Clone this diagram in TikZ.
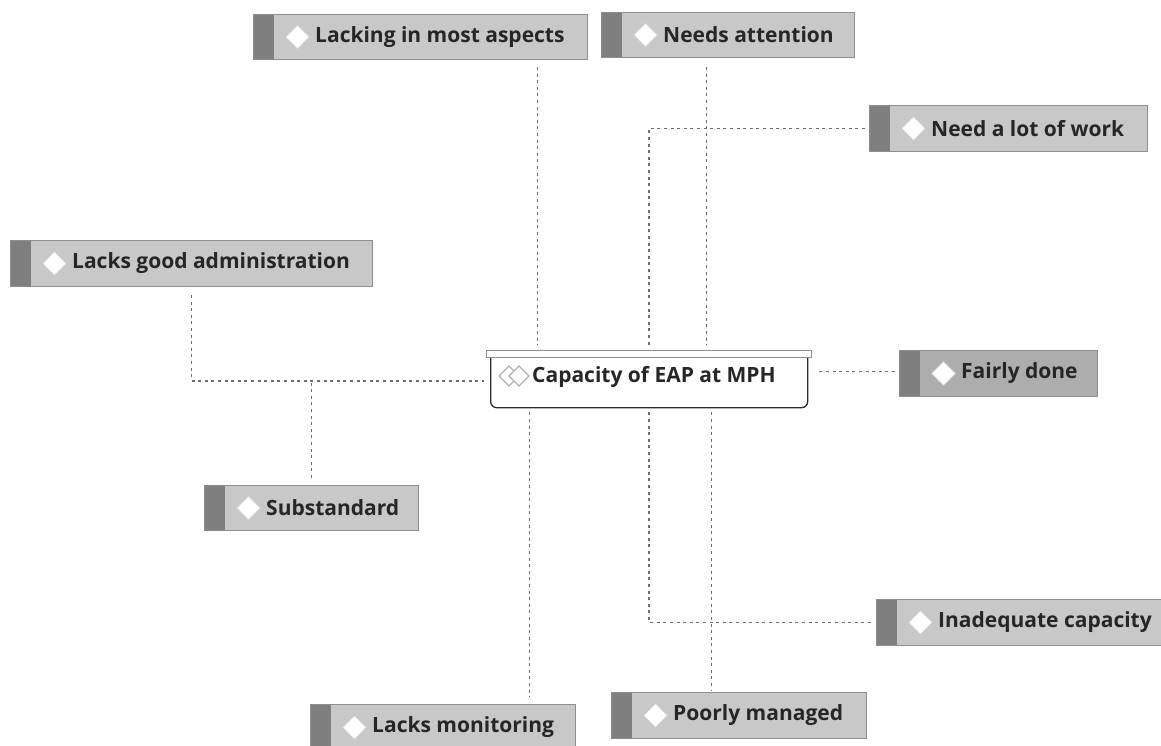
\documentclass[tikz,border=0pt]{standalone}
\usepackage{fontspec}
\newfontfamily\tagfont{Open Sans}
\definecolor{boxfill}{HTML}{C8C8C8}
\definecolor{fairfill}{HTML}{ADADAD}
\definecolor{boxedge}{HTML}{8E8E8E}
\definecolor{stripc}{HTML}{7F7F7F}
\definecolor{diaedge}{HTML}{D0D0D0}
\definecolor{capedge}{HTML}{2B2B2B}
\definecolor{linec}{HTML}{6E6E6E}
\begin{document}
\begin{tikzpicture}[x=1pt,y=-1pt,
  tagbox/.style={draw=boxedge, fill=boxfill, line width=1pt, minimum height=45pt, inner sep=0pt, anchor=north west,
    path picture={
      \fill[stripc] (path picture bounding box.north west) rectangle ([xshift=20pt]path picture bounding box.south west);
      \draw[draw=diaedge, fill=white, line width=1pt] ([xshift=32pt]path picture bounding box.west) -- ++(12,-12) -- ++(12,12) -- ++(-12,12) -- cycle;
    }},
  tagtext/.style={anchor=west, inner sep=0pt, font=\tagfont\bfseries\fontsize{21}{21}\selectfont, text=black!85},
  conn/.style={draw=linec, line width=1.8pt, dash pattern=on 3pt off 3.6pt}
]
\useasboundingbox (0,0) rectangle (1161,745);
\clip (0,0) rectangle (1161,745);
\fill[white] (0,0) rectangle (1161,745);

% central node
\node[draw=capedge, line width=1.3pt, fill=white, rounded corners=6pt, minimum width=317pt, minimum height=56pt, anchor=north west, inner sep=0pt] (cap) at (490,351) {};
\node[draw=boxedge, fill=white, line width=1.2pt, minimum width=325pt, minimum height=7pt, anchor=north west, inner sep=0pt] (capbar) at (486,350) {};
\draw[draw=diaedge!85!black, line width=1.2pt] (499,376) -- ++(10,-10) -- ++(10,10) -- ++(-10,10) -- cycle;
\draw[draw=diaedge!85!black, fill=white, line width=1.2pt] (509,376) -- ++(10,-10) -- ++(10,10) -- ++(-10,10) -- cycle;
\node[tagtext] (capt) at (532,377) {Capacity of EAP at MPH};

% tags
\node[tagbox, minimum width=334pt] (lack) at (253,14) {};
\node[tagtext] (lackt) at ([xshift=62pt]lack.west) {Lacking in most aspects};

\node[tagbox, minimum width=253pt] (need) at (601,12) {};
\node[tagtext] (needt) at ([xshift=62pt]need.west) {Needs attention};

\node[tagbox, minimum width=278pt, minimum height=46pt] (work) at (869,105) {};
\node[tagtext] (workt) at ([xshift=62pt]work.west) {Need a lot of work};

\node[tagbox, minimum width=362pt, minimum height=46pt] (admin) at (10,240) {};
\node[tagtext] (admint) at ([xshift=62pt]admin.west) {Lacks good administration};

\node[tagbox, fill=fairfill, minimum width=198pt, minimum height=46pt] (fair) at (899,350) {};
\node[tagtext] (fairt) at ([xshift=62pt]fair.west) {Fairly done};

\node[tagbox, minimum width=214pt] (sub) at (204,485) {};
\node[tagtext] (subt) at ([xshift=62pt]sub.west) {Substandard};

\node[tagbox, minimum width=290pt, minimum height=46pt] (inad) at (876,599) {};
\node[tagtext] (inadt) at ([xshift=62pt]inad.west) {Inadequate capacity};

\node[tagbox, minimum width=265pt, minimum height=46pt] (mon) at (310,704) {};
\node[tagtext] (mont) at ([xshift=62pt]mon.west) {Lacks monitoring};

\node[tagbox, minimum width=255pt, minimum height=46pt] (poor) at (611,692) {};
\node[tagtext] (poort) at ([xshift=62pt]poor.west) {Poorly managed};

% connectors
\draw[conn, shorten <=7pt, shorten >=5pt] ([xshift=117pt]lack.south) -- ([xshift=117pt]lack.south |- capbar.north);
\draw[conn, shorten <=9pt, shorten >=5pt] ([xshift=-21.5pt]need.south) -- ([xshift=-21.5pt]need.south |- capbar.north);
\draw[conn, shorten <=4pt, shorten >=5pt] (work.west) -| (capbar.north);
\draw[conn, shorten <=8pt, shorten >=6pt] (admin.south) |- ([yshift=-1pt]cap.west);
\draw[conn, shorten <=7pt] (sub.north) -- ([yshift=-1pt]sub.north |- cap.west);
\draw[conn, shorten <=4pt, shorten >=8pt] ([yshift=2pt]fair.west) -- ([yshift=2pt]fair.west -| cap.east);
\draw[conn, shorten <=4pt, shorten >=7pt] ([xshift=86.5pt]mon.north |- cap.south) -- ([xshift=86.5pt]mon.north);
\draw[conn, shorten <=4pt, shorten >=2pt] ([xshift=-27.5pt]poor.north |- cap.south) -- ([xshift=-27.5pt]poor.north);
\draw[conn, shorten <=4pt, shorten >=4pt] (cap.south) |- (inad.west);
\end{tikzpicture}
\end{document}
